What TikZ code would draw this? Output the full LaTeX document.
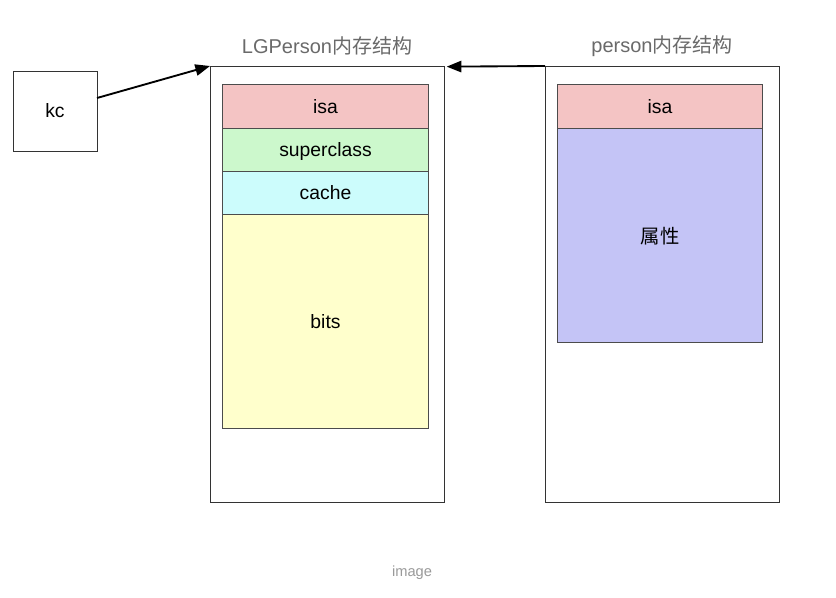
\documentclass[tikz,border=0pt]{standalone}
\usepackage{fontspec}
\setmainfont{Liberation Sans}
\newfontfamily\cjk{Noto Sans CJK SC}
\usepackage{xcolor}
\usepackage{tikz}
\usetikzlibrary{arrows.meta,positioning}
\definecolor{isac}{HTML}{F4C4C4}
\definecolor{supc}{HTML}{CCF8CC}
\definecolor{cachc}{HTML}{CCFCFC}
\definecolor{bitc}{HTML}{FFFFCC}
\definecolor{attc}{HTML}{C4C4F6}
\definecolor{ttlc}{HTML}{6A6A6A}
\definecolor{capc}{HTML}{9A9A9A}
\tikzset{
  ar/.style={-{Triangle[length=11pt,width=8.5pt]},line width=1.4pt,black},
  frame/.style={draw=black!80,line width=0.6pt,fill=white,outer sep=0pt,inner sep=0pt},
  cell/.style={draw=black!70,line width=0.6pt,outer sep=0pt,inner sep=0pt,minimum width=154pt,text depth=0pt,font=\fontsize{14.5}{16}\selectfont},
  ttl/.style={text=ttlc,font=\fontsize{15}{17}\selectfont}
}
\begin{document}
\begin{tikzpicture}[x=0.75pt,y=-0.75pt]
\useasboundingbox[fill=white] (0,0) rectangle (836,598);
\node[frame,minimum width=63pt,minimum height=60pt,font=\fontsize{14.5}{16}\selectfont] (kc) at (55,111) {kc};
% LGPerson
\node[frame,minimum width=175.5pt,minimum height=327pt] (lg) at (327,284) {};
\node[ttl] (lgt) at ([yshift=15pt]lg.north) {LGPerson{\cjk 内存结构}};
\node[cell,fill=isac,minimum height=33pt] (lgisa) at (325.5,106) {isa};
\node[cell,fill=supc,minimum height=32.25pt,below=0pt of lgisa] (lgsup) {superclass};
\node[cell,fill=cachc,minimum height=32.25pt,below=0pt of lgsup] (lgcache) {cache};
\node[cell,fill=bitc,minimum height=160.5pt,below=0pt of lgcache] (lgbits) {bits};
% person
\node[frame,minimum width=175.5pt,minimum height=327pt] (ps) at (662,284) {};
\node[ttl] (pst) at ([yshift=15pt]ps.north) {person{\cjk 内存结构}};
\node[cell,fill=isac,minimum height=33pt] (psisa) at (660,106) {isa};
\node[cell,fill=attc,minimum height=160.5pt,below=0pt of psisa] (psatt) {\cjk 属性};
\draw[ar] ([yshift=9.75pt]kc.east) -- (lg.north west);
\draw[ar] (ps.north west) -- ([xshift=2pt,yshift=-0.5pt]lg.north east);
\node[text=capc,font=\fontsize{11}{13}\selectfont] (cap) at (412,573) {image};
\end{tikzpicture}
\end{document}
